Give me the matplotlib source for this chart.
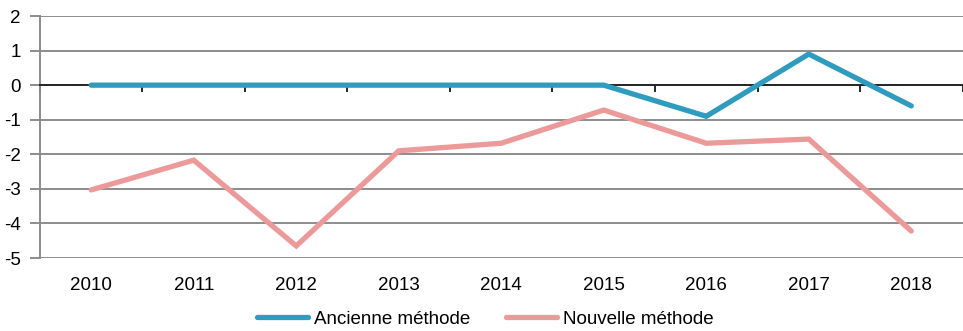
import matplotlib
matplotlib.use('Agg')
import matplotlib.pyplot as plt
import numpy as np

plt.rcParams['font.family'] = ['Liberation Sans', 'DejaVu Sans']
plt.rcParams['axes.unicode_minus'] = False

years = ['2010', '2011', '2012', '2013', '2014', '2015', '2016', '2017', '2018']
ancienne = [0, 0, 0, 0, 0, 0, -0.9, 0.9, -0.6]
nouvelle = [-3.03, -2.17, -4.65, -1.9, -1.68, -0.72, -1.68, -1.56, -4.22]

blue = '#2e9bbf'
pink = '#eb9a99'
grid_col = '#8c8c8c'
fs = 13.5

fig = plt.figure(figsize=(9.63, 3.31), dpi=100)
ax = fig.add_axes([0.0415, 0.2205, 0.958, 0.7311])

x = np.arange(len(years))
ax.plot(x, ancienne, color=blue, lw=3.8, solid_capstyle='round', solid_joinstyle='miter',
        label='Ancienne méthode', zorder=4)
ax.plot(x, nouvelle, color=pink, lw=3.8, solid_capstyle='round', solid_joinstyle='miter',
        label='Nouvelle méthode', zorder=4)

ax.set_xlim(-0.5, len(years) - 0.5)
ax.set_ylim(-5, 2)

# horizontal grid
ax.set_yticks(range(-5, 3))
ax.grid(axis='y', color=grid_col, lw=1.4)
ax.set_axisbelow(True)
ax.tick_params(axis='y', length=7, width=1.4, color=grid_col, pad=7, labelsize=fs)

ax.spines['top'].set_visible(False)
ax.spines['right'].set_visible(False)
ax.spines['left'].set_color(grid_col)
ax.spines['left'].set_linewidth(1.4)

# zero axis with ticks between categories
ax.spines['bottom'].set_position(('data', 0))
ax.spines['bottom'].set_color('#262626')
ax.spines['bottom'].set_linewidth(1.4)
ax.spines['bottom'].set_zorder(3)
ax.set_xticks(np.arange(-0.5, len(years), 1.0))
ax.set_xticklabels([])
ax.tick_params(axis='x', length=5, width=1.4, color='#262626', direction='out')

# category labels under the plot
sec = ax.secondary_xaxis('bottom')
sec.set_xticks(x)
sec.set_xticklabels(years)
sec.tick_params(length=0, pad=14, labelsize=fs)
sec.spines['bottom'].set_visible(False)

fig.legend(loc='center', bbox_to_anchor=(485 / 963, 0.035), ncol=2, frameon=False,
           fontsize=fs, handlelength=2.75, handletextpad=0.3, columnspacing=1.9)

fig.savefig('out.png', dpi=100)
